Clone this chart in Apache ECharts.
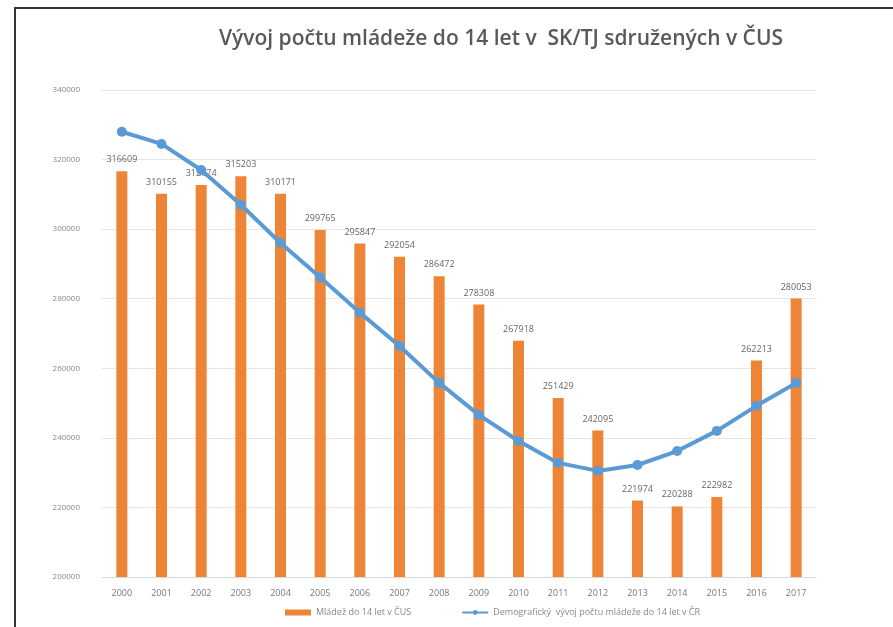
<!DOCTYPE html>
<html>
<head>
<meta charset="utf-8">
<script src="https://cdn.jsdelivr.net/npm/echarts@6/dist/echarts.min.js"></script>
<style>html,body{margin:0;padding:0;background:#fff}#c{width:893px;height:627px}</style>
</head>
<body>
<div id="c"></div>
<script>
const years = ['2000','2001','2002','2003','2004','2005','2006','2007','2008','2009','2010','2011','2012','2013','2014','2015','2016','2017'];
const youthCUS = [316609,310155,312674,315203,310171,299765,295847,292054,286472,278308,267918,251429,242095,221974,220288,222982,262213,280053];
const demographic = [328000,324500,317000,307000,296000,286200,276000,266400,255800,246600,239100,232800,230500,232200,236200,242000,249200,255800];
const yTicks = {min:200000, max:340000, interval:20000};
const titleText = 'Vývoj počtu mládeže do 14 let v  SK/TJ sdružených v ČUS';
const seriesNames = ['Mládež do 14 let v ČUS','Demografický  vývoj počtu mládeže do 14 let v ČR'];

const chart = echarts.init(document.getElementById('c'), null, {renderer:'canvas'});
chart.setOption({
  animation:false,
  backgroundColor:'#fff',
  textStyle:{fontFamily:'Open Sans'},
  graphic:[{type:'rect', shape:{x:15,y:8,width:900,height:640}, style:{fill:'none',stroke:'#333',lineWidth:2}, silent:true}],
  title:{text:titleText, left:496, textAlign:'center', top:24, textStyle:{fontFamily:'Open Sans', fontSize:21, fontWeight:600, color:'#595959'}},
  legend:{bottom:5, left:280, itemWidth:26, itemHeight:6, itemGap:50,
    textStyle:{fontSize:9, color:'#888'},
    data:[{name:seriesNames[0], icon:'rect'},{name:seriesNames[1]}]},
  grid:{left:102, right:77, top:90, bottom:50, containLabel:false},
  xAxis:{type:'category', data:years, axisTick:{show:false},
    axisLine:{lineStyle:{color:'#d9d9d9'}},
    axisLabel:{fontSize:9, color:'#777', margin:12}},
  yAxis:{type:'value', min:yTicks.min, max:yTicks.max, interval:yTicks.interval,
    axisLine:{show:false}, axisTick:{show:false},
    splitLine:{lineStyle:{color:'#e6e6e6'}},
    axisLabel:{fontSize:8, color:'#888', margin:22, formatter:v=>String(v)}},
  series:[
    {name:seriesNames[0], type:'bar', data:youthCUS, barWidth:11,
      itemStyle:{color:'#EE8435'},
      label:{show:true, position:'top', distance:7, fontSize:9, color:'#666'}},
    {name:seriesNames[1], type:'line', data:demographic, symbol:'circle', symbolSize:10,
      lineStyle:{color:'#5B9BD5', width:4}, itemStyle:{color:'#5B9BD5'}, z:5}
  ]
});
</script>
</body>
</html>
